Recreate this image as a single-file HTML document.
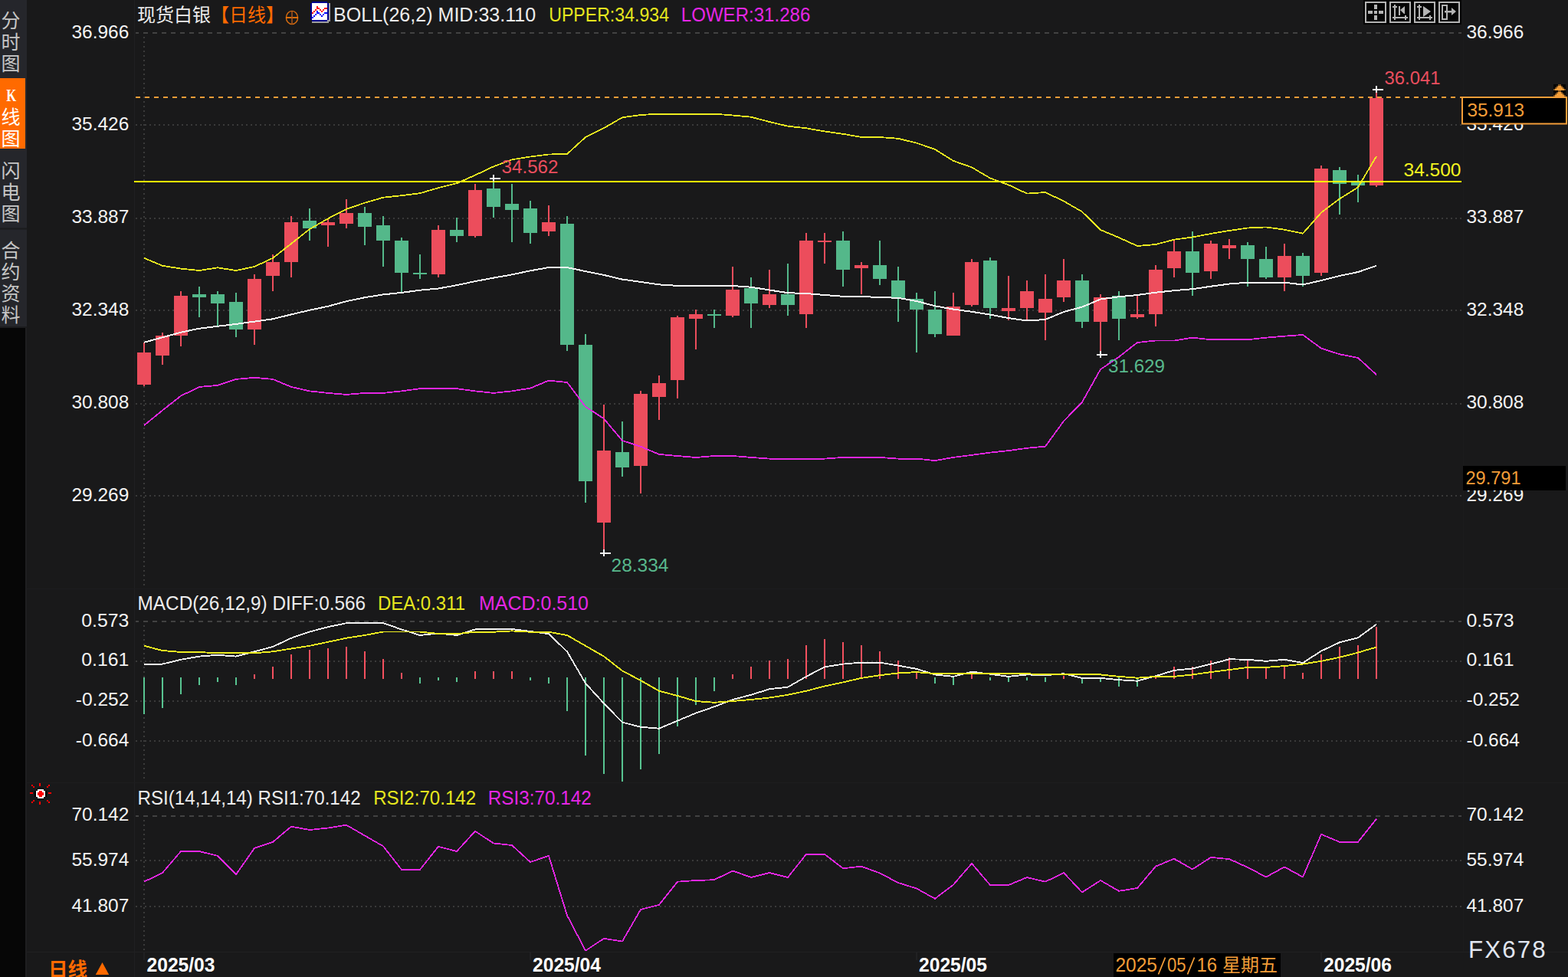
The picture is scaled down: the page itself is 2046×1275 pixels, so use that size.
<!DOCTYPE html>
<html lang="zh"><head><meta charset="utf-8"><title>chart</title><style>html,body{margin:0;padding:0;background:#19191a;overflow:hidden}svg{display:block}</style></head><body>
<svg width="2046" height="1275" viewBox="0 0 2046 1275" font-family='"Liberation Sans", sans-serif'>
<rect x="0" y="0" width="2046" height="1275" fill="#19191a" />
<g fill="#222224">
<rect x="175" y="0" width="1" height="1275" fill="#202022" />
<rect x="1909" y="0" width="1" height="1243" fill="#1b1b1c" />
<rect x="35" y="1242" width="2011" height="1" fill="#202022" />
<rect x="35" y="1021" width="2011" height="1" fill="#1d1d1f" />
<rect x="35" y="768" width="2011" height="1" fill="#1d1d1f" />
</g>
<g stroke-width="2" fill="none" shape-rendering="crispEdges">
<path d="M177 43H1907" stroke="#424242" stroke-dasharray="6 6" stroke-dashoffset="2"/>
<path d="M177 811H1907" stroke="#424242" stroke-dasharray="6 6" stroke-dashoffset="2"/>
<path d="M177 1065H1907" stroke="#424242" stroke-dasharray="6 6" stroke-dashoffset="2"/>
<path d="M177 163H1907" stroke="#3a3a3a" stroke-dasharray="2 4"/>
<path d="M177 285H1907" stroke="#3a3a3a" stroke-dasharray="2 4"/>
<path d="M177 405H1907" stroke="#3a3a3a" stroke-dasharray="2 4"/>
<path d="M177 527H1907" stroke="#3a3a3a" stroke-dasharray="2 4"/>
<path d="M177 647H1907" stroke="#3a3a3a" stroke-dasharray="2 4"/>
<path d="M177 863H1907" stroke="#3a3a3a" stroke-dasharray="2 4"/>
<path d="M177 915H1907" stroke="#3a3a3a" stroke-dasharray="2 4"/>
<path d="M177 967H1907" stroke="#3a3a3a" stroke-dasharray="2 4"/>
<path d="M177 1123H1907" stroke="#3a3a3a" stroke-dasharray="2 4"/>
<path d="M177 1183H1907" stroke="#3a3a3a" stroke-dasharray="2 4"/>
<path d="M188 48V764" stroke="#3a3a3a" stroke-dasharray="2 4"/>
<path d="M188 816V1016" stroke="#3a3a3a" stroke-dasharray="2 4"/>
<path d="M188 1070V1241" stroke="#3a3a3a" stroke-dasharray="2 4"/>
</g>
<rect x="0" y="0" width="35" height="426" fill="#25262b" />
<rect x="0" y="102" width="33" height="92" fill="#ff6a00" />
<rect x="0" y="297.5" width="35" height="2" fill="#1b1b1d" />
<rect x="0" y="428" width="33" height="847" fill="#060606" />
<rect x="33" y="428" width="2" height="847" fill="#1e1e20" />
<rect x="0" y="426" width="35" height="2" fill="#1c1c1e" />
<g font-family='"Liberation Sans", "Noto Sans CJK SC", sans-serif' font-size="25" text-anchor="middle">
<text x="14" y="36" fill="#c6c6c6">分</text>
<text x="14" y="64" fill="#c6c6c6">时</text>
<text x="14" y="92" fill="#c6c6c6">图</text>
<text x="14" y="162" fill="#ffffff">线</text>
<text x="14" y="190" fill="#ffffff">图</text>
<text x="14" y="232" fill="#c6c6c6">闪</text>
<text x="14" y="260" fill="#c6c6c6">电</text>
<text x="14" y="288" fill="#c6c6c6">图</text>
<text x="14" y="336" fill="#c6c6c6">合</text>
<text x="14" y="364" fill="#c6c6c6">约</text>
<text x="14" y="392" fill="#c6c6c6">资</text>
<text x="14" y="420" fill="#c6c6c6">料</text>
</g>
<text x="14.8" y="132" font-family='"Liberation Serif", serif' font-size="22.5" font-weight="bold" fill="#fff" text-anchor="middle" textLength="13" lengthAdjust="spacingAndGlyphs">K</text>
<text x="179" y="27.5" fill="#ececec" font-size="24" text-anchor="start" font-family='"Liberation Sans", "Noto Sans CJK SC", sans-serif' textLength="96" lengthAdjust="spacingAndGlyphs">现货白银</text>
<text x="275" y="27.5" fill="#ff6a00" font-size="24" text-anchor="start" font-family='"Liberation Sans", "Noto Sans CJK SC", sans-serif' textLength="96" lengthAdjust="spacingAndGlyphs">【日线】</text>
<g stroke="#f07808" fill="none"><ellipse cx="381" cy="23" rx="7.6" ry="8.6" stroke-width="1.4" stroke="#d86c10"/><path d="M373 23H389" stroke-width="1.8"/><path d="M381 14.5V31.5" stroke-width="1.5" stroke="#a8561c"/></g>
<g shape-rendering="crispEdges">
<rect x="429" y="4" width="2" height="24" fill="#a0a0a0" />
<rect x="407" y="28" width="22" height="2" fill="#a0a0a0" />
<rect x="427" y="26" width="2" height="2" fill="#a0a0a0" />
<rect x="407" y="2" width="20" height="26" fill="#00008b" />
<rect x="405" y="4" width="24" height="22" fill="#00008b" />
<rect x="407" y="4" width="20" height="22" fill="#ffffff" />
<rect x="407" y="16" width="2" height="2" fill="#ff0000" />
<rect x="407" y="22" width="2" height="2" fill="#0000ff" />
<rect x="409" y="14" width="2" height="2" fill="#ff0000" />
<rect x="409" y="20" width="2" height="2" fill="#0000ff" />
<rect x="411" y="12" width="2" height="2" fill="#ff0000" />
<rect x="411" y="18" width="2" height="2" fill="#0000ff" />
<rect x="413" y="8" width="2" height="4" fill="#ff0000" />
<rect x="413" y="14" width="2" height="4" fill="#0000ff" />
<rect x="415" y="10" width="2" height="2" fill="#ff0000" />
<rect x="415" y="16" width="2" height="2" fill="#0000ff" />
<rect x="417" y="12" width="2" height="2" fill="#ff0000" />
<rect x="417" y="18" width="2" height="2" fill="#0000ff" />
<rect x="419" y="14" width="2" height="2" fill="#ff0000" />
<rect x="419" y="20" width="2" height="2" fill="#0000ff" />
<rect x="421" y="12" width="2" height="2" fill="#ff0000" />
<rect x="421" y="18" width="2" height="2" fill="#0000ff" />
<rect x="423" y="10" width="4" height="2" fill="#ff0000" />
<rect x="423" y="16" width="4" height="2" fill="#0000ff" />
</g>
<text x="435" y="28.1" fill="#ececec" font-size="25" text-anchor="start" textLength="264.2" lengthAdjust="spacingAndGlyphs" >BOLL(26,2) MID:33.110</text>
<text x="716.2" y="28.1" fill="#e6e61e" font-size="25" text-anchor="start" textLength="156.8" lengthAdjust="spacingAndGlyphs" >UPPER:34.934</text>
<text x="888.8" y="28.1" fill="#e526e5" font-size="25" text-anchor="start" textLength="168.5" lengthAdjust="spacingAndGlyphs" >LOWER:31.286</text>
<rect x="1779" y="0" width="128" height="32" fill="#050505" />
<rect x="1782" y="3" width="26" height="26" fill="none" stroke="#b4b4b4" stroke-width="2"/>
<rect x="1814" y="3" width="26" height="26" fill="none" stroke="#b4b4b4" stroke-width="2"/>
<rect x="1846" y="3" width="26" height="26" fill="none" stroke="#b4b4b4" stroke-width="2"/>
<rect x="1878" y="3" width="26" height="26" fill="none" stroke="#b4b4b4" stroke-width="2"/>
<g fill="#b4b4b4">
<rect x="1793" y="14" width="4" height="4" fill="#b4b4b4" />
<rect x="1793" y="6" width="4" height="6" fill="#b4b4b4" />
<rect x="1793" y="20" width="4" height="6" fill="#b4b4b4" />
<rect x="1785" y="14" width="6" height="4" fill="#b4b4b4" />
<rect x="1799" y="14" width="6" height="4" fill="#b4b4b4" />
<rect x="1819" y="6" width="2" height="20" fill="#b4b4b4" />
<rect x="1817" y="8" width="6" height="2" fill="#b4b4b4" />
<rect x="1817" y="22" width="20" height="2" fill="#b4b4b4" />
<rect x="1833" y="20" width="2" height="6" fill="#b4b4b4" />
<rect x="1851" y="6" width="2" height="20" fill="#b4b4b4" />
<rect x="1849" y="8" width="6" height="2" fill="#b4b4b4" />
<rect x="1849" y="22" width="20" height="2" fill="#b4b4b4" />
<rect x="1865" y="20" width="2" height="6" fill="#b4b4b4" />
<rect x="1825" y="8" width="2" height="12" fill="#b4b4b4" />
<path d="M1833 8v10h-1l-5-5z"/>
<path d="M1857 8l10 7-10 7z"/>
<rect x="1882" y="7" width="6" height="18" fill="none" stroke="#b4b4b4" stroke-width="2"/>
<rect x="1885" y="14" width="10" height="2.5" fill="#b4b4b4" />
<path d="M1894 10l6 5-6 5z"/>
</g>
<path d="M177 127H1907" stroke="#f39d38" stroke-width="2" stroke-dasharray="6 6" fill="none" shape-rendering="crispEdges"/>
<g shape-rendering="crispEdges">
<path d="M187 447h2v57h-2zM179 460h18v42h-18z" fill="#ec4d5c"/>
<path d="M211 434h2v42h-2zM203 438h18v26h-18z" fill="#ec4d5c"/>
<path d="M235 380h2v72h-2zM227 386h18v52h-18z" fill="#ec4d5c"/>
<path d="M259 374h2v40h-2zM251 384h18v4h-18z" fill="#54b88a"/>
<path d="M283 380h2v46h-2zM275 384h18v12h-18z" fill="#54b88a"/>
<path d="M307 382h2v58h-2zM299 394h18v36h-18z" fill="#54b88a"/>
<path d="M331 358h2v92h-2zM323 364h18v66h-18z" fill="#ec4d5c"/>
<path d="M355 332h2v48h-2zM347 342h18v18h-18z" fill="#ec4d5c"/>
<path d="M379 282h2v80h-2zM371 290h18v52h-18z" fill="#ec4d5c"/>
<path d="M403 272h2v42h-2zM395 288h18v10h-18z" fill="#54b88a"/>
<path d="M427 286h2v36h-2zM419 290h18v4h-18z" fill="#ec4d5c"/>
<path d="M451 260h2v38h-2zM443 278h18v14h-18z" fill="#ec4d5c"/>
<path d="M475 270h2v50h-2zM467 278h18v18h-18z" fill="#54b88a"/>
<path d="M499 282h2v66h-2zM491 294h18v20h-18z" fill="#54b88a"/>
<path d="M523 310h2v72h-2zM515 314h18v42h-18z" fill="#54b88a"/>
<path d="M547 332h2v32h-2zM539 356h18v2h-18z" fill="#54b88a"/>
<path d="M571 294h2v68h-2zM563 300h18v58h-18z" fill="#ec4d5c"/>
<path d="M595 284h2v32h-2zM587 300h18v8h-18z" fill="#54b88a"/>
<path d="M619 240h2v70h-2zM611 248h18v60h-18z" fill="#ec4d5c"/>
<path d="M643 236h2v48h-2zM635 246h18v24h-18z" fill="#54b88a"/>
<path d="M667 240h2v76h-2zM659 266h18v8h-18z" fill="#54b88a"/>
<path d="M691 262h2v56h-2zM683 272h18v32h-18z" fill="#54b88a"/>
<path d="M715 268h2v40h-2zM707 290h18v12h-18z" fill="#ec4d5c"/>
<path d="M739 282h2v176h-2zM731 292h18v158h-18z" fill="#54b88a"/>
<path d="M763 436h2v220h-2zM755 450h18v178h-18z" fill="#54b88a"/>
<path d="M787 528h2v194h-2zM779 588h18v94h-18z" fill="#ec4d5c"/>
<path d="M811 550h2v72h-2zM803 590h18v20h-18z" fill="#54b88a"/>
<path d="M835 510h2v134h-2zM827 514h18v94h-18z" fill="#ec4d5c"/>
<path d="M859 490h2v58h-2zM851 500h18v18h-18z" fill="#ec4d5c"/>
<path d="M883 412h2v108h-2zM875 414h18v82h-18z" fill="#ec4d5c"/>
<path d="M907 404h2v52h-2zM899 410h18v6h-18z" fill="#ec4d5c"/>
<path d="M931 404h2v24h-2zM923 410h18v2h-18z" fill="#54b88a"/>
<path d="M955 348h2v66h-2zM947 378h18v34h-18z" fill="#ec4d5c"/>
<path d="M979 362h2v66h-2zM971 376h18v20h-18z" fill="#54b88a"/>
<path d="M1003 352h2v50h-2zM995 384h18v14h-18z" fill="#ec4d5c"/>
<path d="M1027 344h2v68h-2zM1019 384h18v14h-18z" fill="#54b88a"/>
<path d="M1051 304h2v124h-2zM1043 314h18v96h-18z" fill="#ec4d5c"/>
<path d="M1075 304h2v40h-2zM1067 314h18v2h-18z" fill="#ec4d5c"/>
<path d="M1099 302h2v72h-2zM1091 314h18v38h-18z" fill="#54b88a"/>
<path d="M1123 342h2v42h-2zM1115 346h18v4h-18z" fill="#ec4d5c"/>
<path d="M1147 314h2v58h-2zM1139 346h18v18h-18z" fill="#54b88a"/>
<path d="M1171 348h2v72h-2zM1163 366h18v24h-18z" fill="#54b88a"/>
<path d="M1195 382h2v78h-2zM1187 390h18v14h-18z" fill="#54b88a"/>
<path d="M1219 380h2v60h-2zM1211 404h18v32h-18z" fill="#54b88a"/>
<path d="M1243 382h2v56h-2zM1235 400h18v38h-18z" fill="#ec4d5c"/>
<path d="M1267 338h2v62h-2zM1259 342h18v56h-18z" fill="#ec4d5c"/>
<path d="M1291 336h2v80h-2zM1283 340h18v62h-18z" fill="#54b88a"/>
<path d="M1315 360h2v58h-2zM1307 402h18v4h-18z" fill="#ec4d5c"/>
<path d="M1339 366h2v52h-2zM1331 380h18v22h-18z" fill="#ec4d5c"/>
<path d="M1363 358h2v86h-2zM1355 390h18v18h-18z" fill="#ec4d5c"/>
<path d="M1387 338h2v56h-2zM1379 366h18v22h-18z" fill="#ec4d5c"/>
<path d="M1411 358h2v70h-2zM1403 366h18v54h-18z" fill="#54b88a"/>
<path d="M1435 384h2v79h-2zM1427 388h18v32h-18z" fill="#ec4d5c"/>
<path d="M1459 380h2v64h-2zM1451 386h18v30h-18z" fill="#54b88a"/>
<path d="M1483 386h2v30h-2zM1475 410h18v4h-18z" fill="#ec4d5c"/>
<path d="M1507 346h2v80h-2zM1499 352h18v58h-18z" fill="#ec4d5c"/>
<path d="M1531 314h2v48h-2zM1523 328h18v22h-18z" fill="#ec4d5c"/>
<path d="M1555 302h2v84h-2zM1547 328h18v28h-18z" fill="#54b88a"/>
<path d="M1579 314h2v50h-2zM1571 318h18v36h-18z" fill="#ec4d5c"/>
<path d="M1603 312h2v26h-2zM1595 320h18v4h-18z" fill="#ec4d5c"/>
<path d="M1627 316h2v58h-2zM1619 320h18v18h-18z" fill="#54b88a"/>
<path d="M1651 322h2v42h-2zM1643 338h18v24h-18z" fill="#54b88a"/>
<path d="M1675 318h2v62h-2zM1667 334h18v28h-18z" fill="#ec4d5c"/>
<path d="M1699 330h2v44h-2zM1691 334h18v26h-18z" fill="#54b88a"/>
<path d="M1723 216h2v144h-2zM1715 220h18v136h-18z" fill="#ec4d5c"/>
<path d="M1747 218h2v62h-2zM1739 222h18v18h-18z" fill="#54b88a"/>
<path d="M1771 228h2v36h-2zM1763 236h18v6h-18z" fill="#54b88a"/>
<path d="M1795 117h2v127h-2zM1787 128h18v114h-18z" fill="#ec4d5c"/>
</g>
<rect x="175" y="236" width="1732" height="2" fill="#ffff00" />
<polyline points="188,446.8 212,440.3 236,433.7 260,428.7 284,425.8 308,422.9 332,419.6 356,416.3 380,410.4 404,404.8 428,399.7 452,393.2 476,388.2 500,384.4 524,381.9 548,378.7 572,376.5 596,372.2 620,367.1 644,362.6 668,358.4 692,353.3 716,349 740,349 764,354.1 788,358.9 812,364.6 836,367.9 860,371.4 884,372.9 908,372.9 932,372.9 956,373 980,374.7 1004,378.5 1028,382.2 1052,383 1076,385 1100,386.8 1124,387 1148,388 1172,388.8 1196,393 1220,399.3 1244,403.6 1268,406.8 1292,410.6 1316,415.1 1340,418.5 1364,417 1388,407 1412,400.6 1436,390.5 1460,387.3 1484,385 1508,381.7 1532,379.2 1556,377.2 1580,373.7 1604,370.5 1628,368.7 1652,368.7 1676,368.7 1700,371.5 1724,366 1748,360 1772,355 1796,346.8" fill="none" stroke="#f4f4f4" stroke-width="2" stroke-linejoin="round" shape-rendering="crispEdges"/>
<polyline points="188,336.8 212,346.8 236,350.6 260,353 284,349.3 308,353 332,348 356,336.8 380,318 404,299 428,285.3 452,272.8 476,264.7 500,257.7 524,255.2 548,252.2 572,245.2 596,239.2 620,228.6 644,217.3 668,208.3 692,204.5 716,201.5 740,201 764,179 788,167.1 812,153.3 836,150 860,148.6 884,148.6 908,148.6 932,148.6 956,150.5 980,152.7 1004,159 1028,164.7 1052,167.3 1076,171.5 1100,174.8 1124,179 1148,179 1172,180.8 1196,186.6 1220,194.9 1244,209.9 1268,218.4 1292,232.5 1316,241.3 1340,252.6 1364,251 1388,262.5 1412,276.3 1436,300 1460,310 1484,321 1508,319 1532,312.7 1556,309.5 1580,305 1604,301 1628,297.5 1652,296.4 1676,299.7 1700,304.7 1724,277.5 1748,259.5 1772,244.4 1796,204" fill="none" stroke="#eded20" stroke-width="1.8" stroke-linejoin="round" shape-rendering="crispEdges"/>
<polyline points="188,555.1 212,535.5 236,516.7 260,504.9 284,502.9 308,494.9 332,492.8 356,494.9 380,504.9 404,510.4 428,512.9 452,514.9 476,512.9 500,512.9 524,510.4 548,507.2 572,507.2 596,507.2 620,510.4 644,512.9 668,510.4 692,506.6 716,496.6 740,499 764,530.7 788,546.4 812,575 836,582.8 860,592.9 884,595 908,597 932,595 956,595 980,596.9 1004,598.6 1028,598.6 1052,598.6 1076,598.6 1100,596.9 1124,596.9 1148,596.9 1172,598.6 1196,598.6 1220,601.1 1244,596.9 1268,593.9 1292,590.6 1316,588.1 1340,584.8 1364,582.6 1388,549.5 1412,524.8 1436,482 1460,465.8 1484,447 1508,444.5 1532,444.5 1556,440.7 1580,443.2 1604,443.2 1628,443.2 1652,440.7 1676,438.7 1700,437 1724,454.6 1748,462.3 1772,467 1796,489" fill="none" stroke="#e526e5" stroke-width="1.8" stroke-linejoin="round" shape-rendering="crispEdges"/>
<rect x="639" y="232" width="14" height="2" fill="#f4f4f4" />
<rect x="643" y="228" width="2" height="9" fill="#f4f4f4" />
<rect x="783" y="721" width="14" height="2" fill="#f4f4f4" />
<rect x="787" y="717" width="2" height="9" fill="#f4f4f4" />
<rect x="1431" y="462" width="14" height="2" fill="#f4f4f4" />
<rect x="1435" y="458" width="2" height="9" fill="#f4f4f4" />
<rect x="1791" y="116" width="14" height="2" fill="#f4f4f4" />
<rect x="1795" y="112" width="2" height="9" fill="#f4f4f4" />
<text x="654.5" y="226" fill="#ea4e5e" font-size="24" text-anchor="start" textLength="74" lengthAdjust="spacingAndGlyphs" >34.562</text>
<text x="797.5" y="745.5" fill="#58b88c" font-size="24" text-anchor="start" textLength="75" lengthAdjust="spacingAndGlyphs" >28.334</text>
<text x="1446" y="485.5" fill="#58b88c" font-size="24" text-anchor="start" textLength="74" lengthAdjust="spacingAndGlyphs" >31.629</text>
<text x="1806.5" y="109.5" fill="#ea4e5e" font-size="24" text-anchor="start" textLength="73" lengthAdjust="spacingAndGlyphs" >36.041</text>
<text x="1831.5" y="229.5" fill="#f4f420" font-size="24" text-anchor="start" textLength="75" lengthAdjust="spacingAndGlyphs" >34.500</text>
<g shape-rendering="crispEdges">
<rect x="187" y="884" width="2" height="47.9" fill="#58c491" />
<rect x="211" y="884" width="2" height="39.8" fill="#58c491" />
<rect x="235" y="884" width="2" height="21.8" fill="#58c491" />
<rect x="259" y="884" width="2" height="10" fill="#58c491" />
<rect x="283" y="884" width="2" height="6" fill="#58c491" />
<rect x="307" y="884" width="2" height="10" fill="#58c491" />
<rect x="331" y="879.9" width="2" height="6.1" fill="#f4505e" />
<rect x="355" y="869.9" width="2" height="16.1" fill="#f4505e" />
<rect x="379" y="853.8" width="2" height="32.2" fill="#f4505e" />
<rect x="403" y="847.8" width="2" height="38.2" fill="#f4505e" />
<rect x="427" y="845.8" width="2" height="40.2" fill="#f4505e" />
<rect x="451" y="843.8" width="2" height="42.2" fill="#f4505e" />
<rect x="475" y="849.8" width="2" height="36.2" fill="#f4505e" />
<rect x="499" y="859.8" width="2" height="26.2" fill="#f4505e" />
<rect x="523" y="877.9" width="2" height="8.1" fill="#f4505e" />
<rect x="547" y="884" width="2" height="8" fill="#58c491" />
<rect x="571" y="884" width="2" height="4" fill="#58c491" />
<rect x="595" y="884" width="2" height="6" fill="#58c491" />
<rect x="619" y="875.9" width="2" height="10.1" fill="#f4505e" />
<rect x="643" y="875.9" width="2" height="10.1" fill="#f4505e" />
<rect x="667" y="875.9" width="2" height="10.1" fill="#f4505e" />
<rect x="691" y="884" width="2" height="4" fill="#58c491" />
<rect x="715" y="884" width="2" height="8" fill="#58c491" />
<rect x="739" y="884" width="2" height="43.8" fill="#58c491" />
<rect x="763" y="884" width="2" height="101.8" fill="#58c491" />
<rect x="787" y="884" width="2" height="125.9" fill="#58c491" />
<rect x="811" y="884" width="2" height="136" fill="#58c491" />
<rect x="835" y="884" width="2" height="119.9" fill="#58c491" />
<rect x="859" y="884" width="2" height="100" fill="#58c491" />
<rect x="883" y="884" width="2" height="63.9" fill="#58c491" />
<rect x="907" y="884" width="2" height="35.8" fill="#58c491" />
<rect x="931" y="884" width="2" height="17.7" fill="#58c491" />
<rect x="955" y="879.9" width="2" height="6.1" fill="#f4505e" />
<rect x="979" y="869.9" width="2" height="16.1" fill="#f4505e" />
<rect x="1003" y="861.8" width="2" height="24.2" fill="#f4505e" />
<rect x="1027" y="859.8" width="2" height="26.2" fill="#f4505e" />
<rect x="1051" y="841.8" width="2" height="44.2" fill="#f4505e" />
<rect x="1075" y="834" width="2" height="52" fill="#f4505e" />
<rect x="1099" y="837.8" width="2" height="48.2" fill="#f4505e" />
<rect x="1123" y="841.8" width="2" height="44.2" fill="#f4505e" />
<rect x="1147" y="849.8" width="2" height="36.2" fill="#f4505e" />
<rect x="1171" y="861.8" width="2" height="24.2" fill="#f4505e" />
<rect x="1195" y="875.9" width="2" height="10.1" fill="#f4505e" />
<rect x="1219" y="884" width="2" height="8" fill="#58c491" />
<rect x="1243" y="884" width="2" height="10" fill="#58c491" />
<rect x="1267" y="879.9" width="2" height="6.1" fill="#f4505e" />
<rect x="1291" y="884" width="2" height="4" fill="#58c491" />
<rect x="1315" y="884" width="2" height="6" fill="#58c491" />
<rect x="1339" y="884" width="2" height="4" fill="#58c491" />
<rect x="1363" y="884" width="2" height="6" fill="#58c491" />
<rect x="1387" y="881.7" width="2" height="4.3" fill="#f4505e" />
<rect x="1411" y="884" width="2" height="8" fill="#58c491" />
<rect x="1435" y="884" width="2" height="6" fill="#58c491" />
<rect x="1459" y="884" width="2" height="12" fill="#58c491" />
<rect x="1483" y="884" width="2" height="12" fill="#58c491" />
<rect x="1507" y="882" width="2" height="4" fill="#f4505e" />
<rect x="1531" y="869.9" width="2" height="16.1" fill="#f4505e" />
<rect x="1555" y="869.9" width="2" height="16.1" fill="#f4505e" />
<rect x="1579" y="861.8" width="2" height="24.2" fill="#f4505e" />
<rect x="1603" y="857.8" width="2" height="28.2" fill="#f4505e" />
<rect x="1627" y="861.8" width="2" height="24.2" fill="#f4505e" />
<rect x="1651" y="869.9" width="2" height="16.1" fill="#f4505e" />
<rect x="1675" y="869.9" width="2" height="16.1" fill="#f4505e" />
<rect x="1699" y="877.9" width="2" height="8.1" fill="#f4505e" />
<rect x="1723" y="853.8" width="2" height="32.2" fill="#f4505e" />
<rect x="1747" y="843.8" width="2" height="42.2" fill="#f4505e" />
<rect x="1771" y="841.8" width="2" height="44.2" fill="#f4505e" />
<rect x="1795" y="817.7" width="2" height="68.3" fill="#f4505e" />
</g>
<polyline points="188,866.6 212,866.6 236,860.8 260,856.6 284,854.8 308,856.6 332,850.3 356,844 380,832.7 404,824.5 428,818.2 452,813.2 476,813.2 500,813.2 524,821.4 548,829 572,826.5 596,829 620,821.4 644,821 668,821 692,824 716,827.2 740,850.3 764,891.7 788,918 812,942.6 836,948.7 860,950.7 884,940.6 908,930.6 932,922.3 956,913 980,906.8 1004,899.2 1028,896.7 1052,882.9 1076,870.4 1100,866.6 1124,864.6 1148,864.6 1172,868.6 1196,872.9 1220,880.4 1244,882.9 1268,876.6 1292,879.7 1316,882.9 1340,880.4 1364,881.2 1388,879.2 1412,884.9 1436,884.9 1460,887.2 1484,888.7 1508,882.2 1532,874.9 1556,872.4 1580,866.6 1604,860.3 1628,860.8 1652,862.8 1676,860.8 1700,865 1724,849.6 1748,838.3 1772,832.2 1796,814.7" fill="none" stroke="#f4f4f4" stroke-width="1.9" stroke-linejoin="round" shape-rendering="crispEdges"/>
<polyline points="188,842.8 212,849 236,851 260,851 284,852.3 308,852.3 332,852.3 356,850.3 380,846.5 404,842.8 428,837.8 452,832.7 476,829 500,824.5 524,824.5 548,824.5 572,827 596,827.2 620,824.7 644,824.7 668,823.4 692,824.7 716,824.7 740,829 764,842.8 788,856.6 812,875.4 836,888 860,901.7 884,908 908,915 932,916.8 956,915 980,913 1004,910.5 1028,906.8 1052,901.7 1076,895.5 1100,890.4 1124,884.9 1148,881.2 1172,878.4 1196,877.1 1220,879.2 1244,879.2 1268,879.2 1292,879.2 1316,879.2 1340,879.2 1364,880.4 1388,880.4 1412,880.4 1436,880.4 1460,882.9 1484,884.7 1508,882.9 1532,882.9 1556,880.4 1580,877.1 1604,874.1 1628,870.9 1652,870.9 1676,869.1 1700,866.6 1724,862.8 1748,857.8 1772,851.6 1796,844.5" fill="none" stroke="#eded20" stroke-width="1.9" stroke-linejoin="round" shape-rendering="crispEdges"/>
<text x="179.6" y="795.9" fill="#ececec" font-size="25" text-anchor="start" textLength="297.5" lengthAdjust="spacingAndGlyphs" >MACD(26,12,9) DIFF:0.566</text>
<text x="493" y="795.9" fill="#e6e61e" font-size="25" text-anchor="start" textLength="114" lengthAdjust="spacingAndGlyphs" >DEA:0.311</text>
<text x="625" y="795.9" fill="#e526e5" font-size="25" text-anchor="start" textLength="143" lengthAdjust="spacingAndGlyphs" >MACD:0.510</text>
<polyline points="188,1150.7 212,1139 236,1111 260,1111 284,1116.9 308,1141.2 332,1106.8 356,1098.8 380,1078.7 404,1083 428,1080.5 452,1076.7 476,1090.5 500,1104.3 524,1134.9 548,1134.9 572,1104.8 596,1111 620,1084.7 644,1100.5 668,1103 692,1125 716,1116.9 740,1194.6 764,1240.6 788,1224.8 812,1228.5 836,1187 860,1180.8 884,1150.7 908,1149 932,1148.2 956,1136.4 980,1145 1004,1139 1028,1145 1052,1114.8 1076,1114.8 1100,1133.2 1124,1130.7 1148,1139.4 1172,1152 1196,1159.5 1220,1172.8 1244,1154.5 1268,1126.9 1292,1155 1316,1155 1340,1145 1364,1150.7 1388,1139 1412,1164.5 1436,1149 1460,1162.8 1484,1159 1508,1130.7 1532,1120.6 1556,1134.4 1580,1118.9 1604,1121.1 1628,1131.9 1652,1144.5 1676,1131.4 1700,1144.5 1724,1088.8 1748,1098.8 1772,1098.8 1796,1068.7" fill="none" stroke="#e526e5" stroke-width="1.8" stroke-linejoin="round" shape-rendering="crispEdges"/>
<text x="179.6" y="1050" fill="#ececec" font-size="25" text-anchor="start" textLength="291" lengthAdjust="spacingAndGlyphs" >RSI(14,14,14) RSI1:70.142</text>
<text x="487.2" y="1050" fill="#e6e61e" font-size="25" text-anchor="start" textLength="134" lengthAdjust="spacingAndGlyphs" >RSI2:70.142</text>
<text x="636.8" y="1050" fill="#e526e5" font-size="25" text-anchor="start" textLength="135" lengthAdjust="spacingAndGlyphs" >RSI3:70.142</text>
<text x="93.5" y="49.7" fill="#f4f4f4" font-size="24.8" text-anchor="start" textLength="74.8" lengthAdjust="spacingAndGlyphs" >36.966</text>
<text x="1913.5" y="49.7" fill="#f4f4f4" font-size="24.8" text-anchor="start" textLength="74.8" lengthAdjust="spacingAndGlyphs" >36.966</text>
<text x="93.5" y="169.8" fill="#f4f4f4" font-size="24.8" text-anchor="start" textLength="74.8" lengthAdjust="spacingAndGlyphs" >35.426</text>
<text x="1913.5" y="169.8" fill="#f4f4f4" font-size="24.8" text-anchor="start" textLength="74.8" lengthAdjust="spacingAndGlyphs" >35.426</text>
<text x="93.5" y="291.4" fill="#f4f4f4" font-size="24.8" text-anchor="start" textLength="74.8" lengthAdjust="spacingAndGlyphs" >33.887</text>
<text x="1913.5" y="291.4" fill="#f4f4f4" font-size="24.8" text-anchor="start" textLength="74.8" lengthAdjust="spacingAndGlyphs" >33.887</text>
<text x="93.5" y="411.7" fill="#f4f4f4" font-size="24.8" text-anchor="start" textLength="74.8" lengthAdjust="spacingAndGlyphs" >32.348</text>
<text x="1913.5" y="411.7" fill="#f4f4f4" font-size="24.8" text-anchor="start" textLength="74.8" lengthAdjust="spacingAndGlyphs" >32.348</text>
<text x="93.5" y="533" fill="#f4f4f4" font-size="24.8" text-anchor="start" textLength="74.8" lengthAdjust="spacingAndGlyphs" >30.808</text>
<text x="1913.5" y="533" fill="#f4f4f4" font-size="24.8" text-anchor="start" textLength="74.8" lengthAdjust="spacingAndGlyphs" >30.808</text>
<text x="93.5" y="653.6" fill="#f4f4f4" font-size="24.8" text-anchor="start" textLength="74.8" lengthAdjust="spacingAndGlyphs" >29.269</text>
<text x="1913.5" y="653.6" fill="#f4f4f4" font-size="24.8" text-anchor="start" textLength="74.8" lengthAdjust="spacingAndGlyphs" >29.269</text>
<text x="106.3" y="817.5" fill="#f4f4f4" font-size="24.8" text-anchor="start" textLength="62" lengthAdjust="spacingAndGlyphs" >0.573</text>
<text x="1913.5" y="817.5" fill="#f4f4f4" font-size="24.8" text-anchor="start" textLength="62" lengthAdjust="spacingAndGlyphs" >0.573</text>
<text x="106.3" y="869.4" fill="#f4f4f4" font-size="24.8" text-anchor="start" textLength="62" lengthAdjust="spacingAndGlyphs" >0.161</text>
<text x="1913.5" y="869.4" fill="#f4f4f4" font-size="24.8" text-anchor="start" textLength="62" lengthAdjust="spacingAndGlyphs" >0.161</text>
<text x="98.8" y="921.2" fill="#f4f4f4" font-size="24.8" text-anchor="start" textLength="69.5" lengthAdjust="spacingAndGlyphs" >-0.252</text>
<text x="1913.5" y="921.2" fill="#f4f4f4" font-size="24.8" text-anchor="start" textLength="69.5" lengthAdjust="spacingAndGlyphs" >-0.252</text>
<text x="98.8" y="973.5" fill="#f4f4f4" font-size="24.8" text-anchor="start" textLength="69.5" lengthAdjust="spacingAndGlyphs" >-0.664</text>
<text x="1913.5" y="973.5" fill="#f4f4f4" font-size="24.8" text-anchor="start" textLength="69.5" lengthAdjust="spacingAndGlyphs" >-0.664</text>
<text x="93.5" y="1071" fill="#f4f4f4" font-size="24.8" text-anchor="start" textLength="74.8" lengthAdjust="spacingAndGlyphs" >70.142</text>
<text x="1913.5" y="1071" fill="#f4f4f4" font-size="24.8" text-anchor="start" textLength="74.8" lengthAdjust="spacingAndGlyphs" >70.142</text>
<text x="93.5" y="1129.7" fill="#f4f4f4" font-size="24.8" text-anchor="start" textLength="74.8" lengthAdjust="spacingAndGlyphs" >55.974</text>
<text x="1913.5" y="1129.7" fill="#f4f4f4" font-size="24.8" text-anchor="start" textLength="74.8" lengthAdjust="spacingAndGlyphs" >55.974</text>
<text x="93.5" y="1190" fill="#f4f4f4" font-size="24.8" text-anchor="start" textLength="74.8" lengthAdjust="spacingAndGlyphs" >41.807</text>
<text x="1913.5" y="1190" fill="#f4f4f4" font-size="24.8" text-anchor="start" textLength="74.8" lengthAdjust="spacingAndGlyphs" >41.807</text>
<rect x="2027" y="110" width="16" height="16" fill="#050505" />
<g shape-rendering="crispEdges">
<rect x="2033" y="110" width="4" height="2" fill="#7f5320" />
<rect x="2033" y="112" width="4" height="2" fill="#f39d38" />
<rect x="2031" y="112" width="2" height="2" fill="#7f5320" />
<rect x="2037" y="112" width="2" height="2" fill="#7f5320" />
<rect x="2031" y="114" width="8" height="2" fill="#f39d38" />
<rect x="2029" y="114" width="2" height="2" fill="#7f5320" />
<rect x="2039" y="114" width="2" height="2" fill="#7f5320" />
<rect x="2029" y="116" width="12" height="2" fill="#f39d38" />
<rect x="2027" y="116" width="2" height="2" fill="#7f5320" />
<rect x="2041" y="116" width="2" height="2" fill="#7f5320" />
<rect x="2033" y="118" width="4" height="2" fill="#7f5320" />
<rect x="2033" y="120" width="4" height="2" fill="#f39d38" />
<rect x="2031" y="120" width="2" height="2" fill="#7f5320" />
<rect x="2037" y="120" width="2" height="2" fill="#7f5320" />
<rect x="2031" y="122" width="8" height="2" fill="#f39d38" />
<rect x="2029" y="122" width="2" height="2" fill="#7f5320" />
<rect x="2039" y="122" width="2" height="2" fill="#7f5320" />
<rect x="2029" y="124" width="12" height="2" fill="#f39d38" />
<rect x="2027" y="124" width="2" height="2" fill="#7f5320" />
<rect x="2041" y="124" width="2" height="2" fill="#7f5320" />
</g>
<rect x="1908" y="127" width="136" height="34.5" fill="#000" stroke="#f39d38" stroke-width="2"/>
<text x="1914.5" y="151.8" fill="#f39d38" font-size="24.8" text-anchor="start" textLength="74.5" lengthAdjust="spacingAndGlyphs" >35.913</text>
<rect x="1909" y="608" width="134" height="32" fill="#000" />
<text x="1912.5" y="631.5" fill="#f39d38" font-size="24.6" text-anchor="start" textLength="72" lengthAdjust="spacingAndGlyphs" >29.791</text>
<text x="191.5" y="1268" fill="#ffffff" font-size="25" text-anchor="start" font-weight="bold" textLength="89" lengthAdjust="spacingAndGlyphs" >2025/03</text>
<text x="695" y="1268" fill="#ffffff" font-size="25" text-anchor="start" font-weight="bold" textLength="89" lengthAdjust="spacingAndGlyphs" >2025/04</text>
<text x="1199" y="1268" fill="#ffffff" font-size="25" text-anchor="start" font-weight="bold" textLength="89" lengthAdjust="spacingAndGlyphs" >2025/05</text>
<text x="1727" y="1268" fill="#ffffff" font-size="25" text-anchor="start" font-weight="bold" textLength="89" lengthAdjust="spacingAndGlyphs" >2025/06</text>
<rect x="187.5" y="1243" width="1" height="10" fill="#2a2a2c" />
<rect x="691.5" y="1243" width="1" height="10" fill="#2a2a2c" />
<rect x="1195.5" y="1243" width="1" height="10" fill="#2a2a2c" />
<rect x="1723.5" y="1243" width="1" height="10" fill="#2a2a2c" />
<rect x="1453" y="1244" width="218" height="31" fill="#000" />
<text x="1455.5" y="1267.8" fill="#f39d38" font-size="25" text-anchor="start" textLength="54.5" lengthAdjust="spacingAndGlyphs" >2025</text>
<text x="1523" y="1267.8" fill="#f39d38" font-size="25" text-anchor="start" textLength="24.5" lengthAdjust="spacingAndGlyphs" >05</text>
<text x="1561.5" y="1267.8" fill="#f39d38" font-size="25" text-anchor="start" textLength="26.5" lengthAdjust="spacingAndGlyphs" >16</text>
<path d="M1520.5 1249.5L1511.5 1271.5M1558.5 1249.5L1549.5 1271.5" stroke="#f39d38" stroke-width="1.8" fill="none"/>
<text x="1595" y="1268" fill="#f39d38" font-size="24" text-anchor="start" font-family='"Liberation Sans", "Noto Sans CJK SC", sans-serif' textLength="72" lengthAdjust="spacingAndGlyphs">星期五</text>
<text x="63" y="1274" fill="#ff6a00" font-size="25" font-weight="bold" text-anchor="start" font-family='"Liberation Sans", "Noto Sans CJK SC", sans-serif' textLength="51" lengthAdjust="spacingAndGlyphs">日线</text>
<path d="M133.5 1256l8.7 16h-17.4z" fill="#ff6a00"/>
<g shape-rendering="crispEdges">
<rect x="51" y="1022" width="2" height="4" fill="#ff0000" />
<rect x="51" y="1046" width="2" height="4" fill="#ff0000" />
<rect x="39" y="1034" width="4" height="2" fill="#ff0000" />
<rect x="63" y="1034" width="4" height="2" fill="#ff0000" />
<rect x="41" y="1024" width="2" height="2" fill="#ff0000" />
<rect x="43" y="1026" width="2" height="2" fill="#ff0000" />
<rect x="63" y="1024" width="2" height="2" fill="#ff0000" />
<rect x="61" y="1026" width="2" height="2" fill="#ff0000" />
<rect x="43" y="1044" width="2" height="2" fill="#ff0000" />
<rect x="41" y="1046" width="2" height="2" fill="#ff0000" />
<rect x="61" y="1044" width="2" height="2" fill="#ff0000" />
<rect x="63" y="1046" width="2" height="2" fill="#ff0000" />
<rect x="49" y="1028" width="8" height="16" fill="#000" />
<rect x="47" y="1030" width="12" height="12" fill="#000" />
<rect x="45" y="1032" width="16" height="8" fill="#000" />
<rect x="49" y="1030" width="8" height="12" fill="#fff" />
<rect x="47" y="1032" width="12" height="8" fill="#fff" />
<rect x="51" y="1032" width="4" height="8" fill="#ff0000" />
<rect x="49" y="1034" width="8" height="4" fill="#ff0000" />
</g>
<text x="1916" y="1250.2" fill="#e1e6f0" font-size="31.3" text-anchor="start" letter-spacing="2.1">FX678</text>
</svg>
</body></html>
